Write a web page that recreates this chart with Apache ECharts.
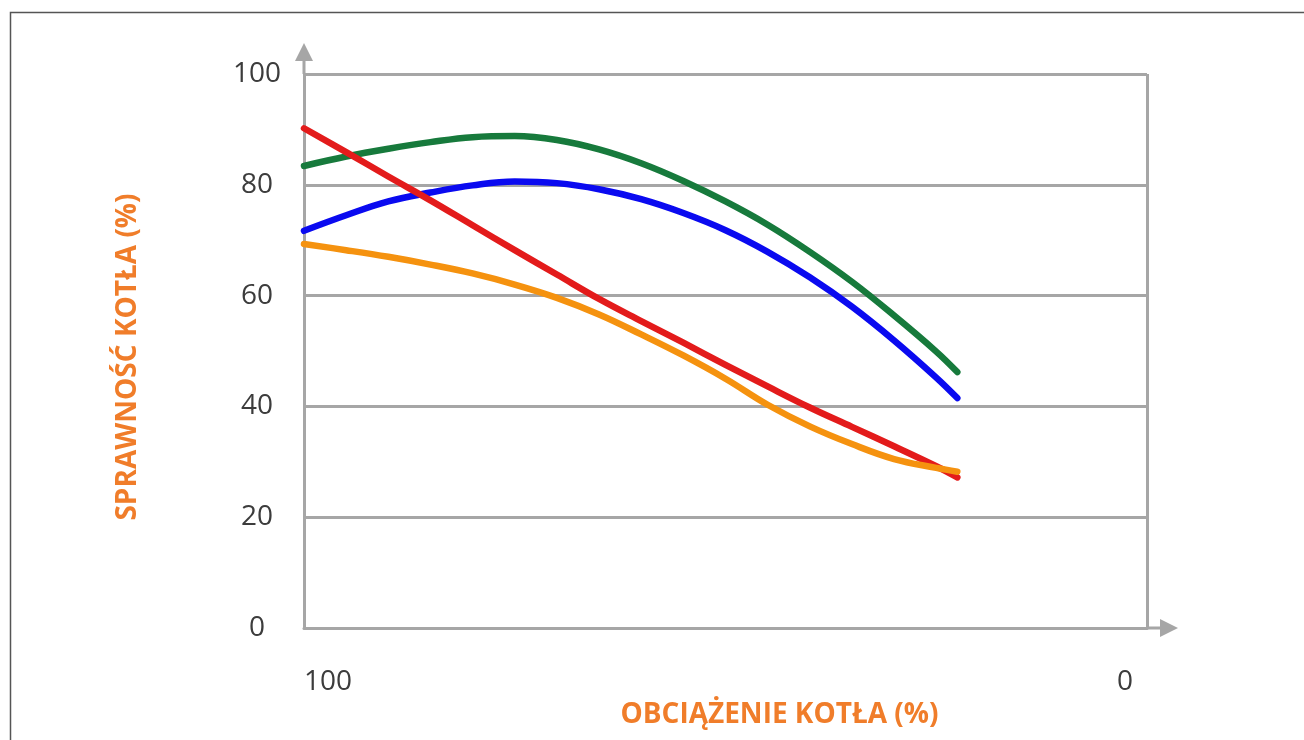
<!DOCTYPE html>
<html>
<head>
<meta charset="utf-8">
<script src="https://cdn.jsdelivr.net/npm/echarts@6/dist/echarts.min.js"></script>
<style>
html,body{margin:0;padding:0;background:#fff;}
#chart{width:1304px;height:740px;}
</style>
</head>
<body>
<div id="chart"></div>
<script>
// Boiler load (%) — x axis runs from 100 (left) to 0 (right)
const loads = [100, 95, 90, 85, 80, 75, 70, 65, 60, 55, 50, 45, 40, 35, 30, 25, 22.5];
// Boiler efficiency (%) per curve
const greenValues  = [83.4, 85.1, 86.5, 87.7, 88.6, 88.8, 88.1, 86.4, 83.9, 80.7, 77.0, 72.8, 67.9, 62.5, 56.4, 49.9, 46.2];
const blueValues   = [71.7, 74.5, 77.0, 78.6, 79.9, 80.6, 80.3, 79.2, 77.4, 74.9, 71.8, 67.9, 63.3, 58.0, 51.9, 45.2, 41.5];
const redValues    = [90.2, 85.9, 81.5, 77.2, 72.7, 68.2, 63.8, 59.4, 55.4, 51.5, 47.5, 43.6, 39.8, 36.3, 32.8, 29.2, 27.2];
const orangeValues = [69.3, 68.2, 67.0, 65.6, 64.0, 62.0, 59.6, 56.6, 53.0, 49.2, 45.0, 40.3, 36.4, 33.2, 30.5, 28.9, 28.2];
const yTicks = [0, 20, 40, 60, 80, 100];
const xTicks = [0, 100];

const pairs = vals => loads.map((x, i) => [x, vals[i]]);

const GRID = '#a6a6a6';
const ORANGE_TEXT = '#f07d2a';
const arrowPath = 'path://M9,0 L18,18 L10.5,18 L10.5,31 L7.5,31 L7.5,18 L0,18 Z';

const chart = echarts.init(document.getElementById('chart'), null, {renderer: 'canvas'});

function mkSeries(name, vals, color) {
  return {
    name, type: 'line', data: pairs(vals), smooth: 0.4, symbol: 'none',
    lineStyle: {color, width: 6.5, cap: 'round', join: 'round'},
    itemStyle: {color}
  };
}

chart.setOption({
  animation: false,
  backgroundColor: '#fff',
  graphic: [{
    type: 'rect', left: 8, top: 10, silent: true,
    shape: {x: 0.5, y: 0.5, width: 1400, height: 1000},
    style: {fill: 'none', stroke: '#555', lineWidth: 1.5}
  }],
  grid: {left: 304, right: 157, top: 74, bottom: 112},
  xAxis: {
    type: 'value', min: 0, max: 100, interval: 100, inverse: true,
    name: 'OBCIĄŻENIE KOTŁA (%)',
    nameLocation: 'middle', nameGap: 70,
    nameTextStyle: {color: ORANGE_TEXT, fontFamily: 'Open Sans', fontWeight: 'bold', fontSize: 28, lineHeight: 28, padding: [0, 0, 0, 108]},
    axisLine: {show: true, onZero: false, lineStyle: {color: GRID, width: 3}, symbol: ['none', arrowPath], symbolSize: [18, 31], symbolOffset: [0, 15.5]},
    axisTick: {show: false},
    axisLabel: {
      color: '#3c3c3c', fontFamily: 'Open Sans', fontSize: 28, lineHeight: 28, margin: 40,
      alignMinLabel: 'right', alignMaxLabel: 'left', padding: [0, 14, 0, 0],
      customValues: xTicks,
      formatter: v => String(v)
    },
    splitLine: {show: true, lineStyle: {color: GRID, width: 3}}
  },
  yAxis: {
    type: 'value', min: 0, max: 100, interval: 20,
    name: 'SPRAWNOŚĆ KOTŁA (%)',
    nameLocation: 'middle', nameGap: 162, nameRotate: 90,
    nameTextStyle: {color: ORANGE_TEXT, fontFamily: 'Open Sans', fontWeight: 'bold', fontSize: 28, lineHeight: 28, padding: [0, 12, 0, 0]},
    axisLine: {show: true, onZero: false, lineStyle: {color: GRID, width: 3}, symbol: ['none', arrowPath], symbolSize: [18, 31], symbolOffset: [0, 15.5]},
    axisTick: {show: false},
    axisLabel: {
      color: '#3c3c3c', fontFamily: 'Open Sans', fontSize: 28, lineHeight: 28, margin: 47, align: 'center',
      customValues: yTicks,
      formatter: v => String(v)
    },
    splitLine: {show: true, lineStyle: {color: GRID, width: 3}}
  },
  series: [
    mkSeries('A', greenValues, '#177a3c'),
    mkSeries('B', blueValues, '#0a0af0'),
    mkSeries('C', redValues, '#e31b1b'),
    mkSeries('D', orangeValues, '#f5920f')
  ]
});
</script>
</body>
</html>
